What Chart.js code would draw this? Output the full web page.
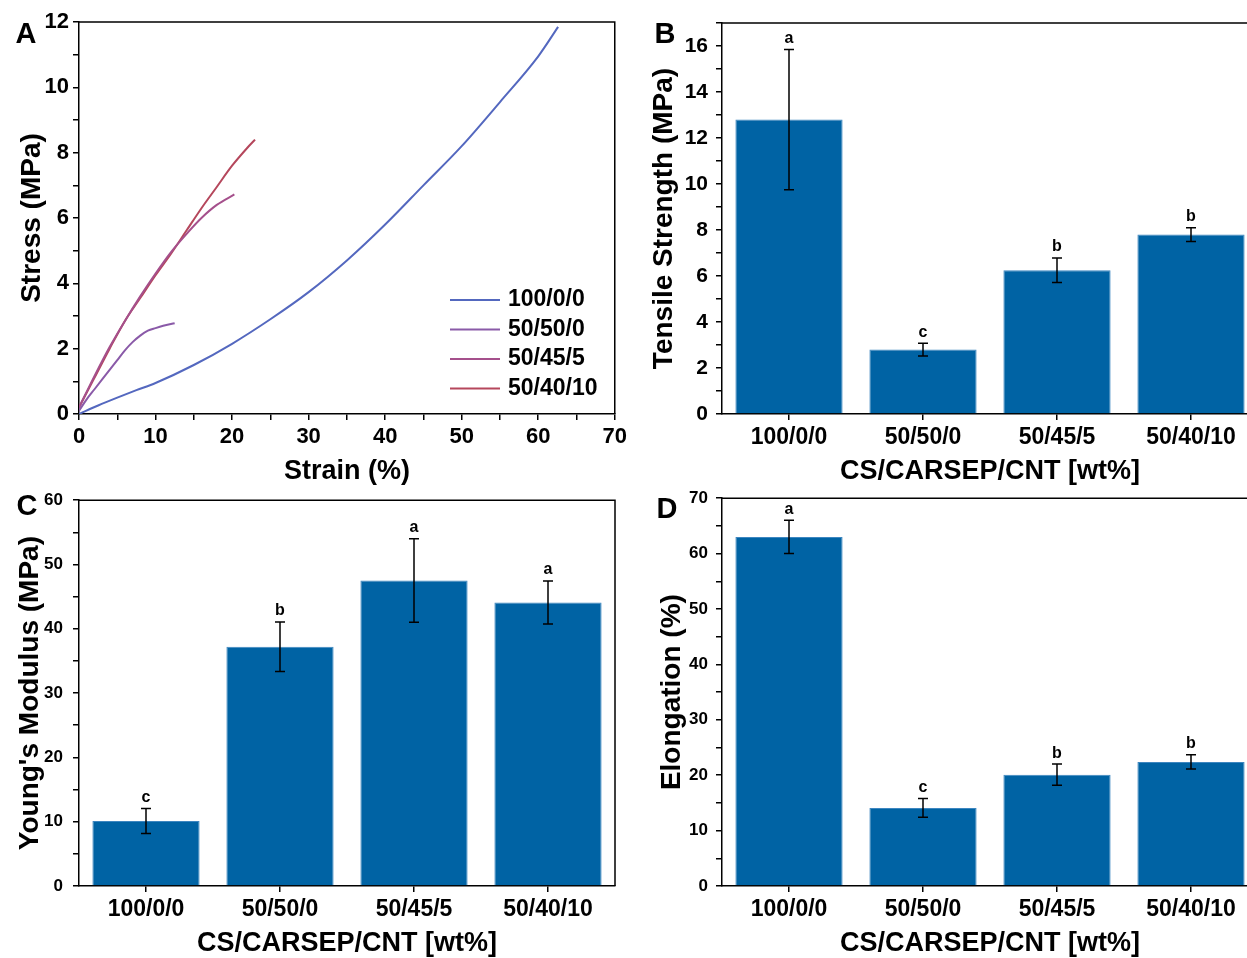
<!DOCTYPE html>
<html>
<head>
<meta charset="utf-8">
<script src="https://cdn.jsdelivr.net/npm/chart.js@4.4.1/dist/chart.umd.min.js"></script>
<style>
    body { margin: 0; background: #fff; overflow: hidden; width: 1247px; height: 958px; position: relative; }
    canvas { position: absolute; }
</style>
</head>
<body>
<canvas id="panelA" width="631" height="490" style="left:0;top:0"></canvas>
<canvas id="panelB" width="625" height="490" style="left:640px;top:0"></canvas>
<canvas id="panelC" width="625" height="480" style="left:0;top:480px"></canvas>
<canvas id="panelD" width="625" height="480" style="left:640px;top:480px"></canvas>
<script>
// Stress-strain curves (panel A)

const seriesNames = ['100/0/0', '50/50/0', '50/45/5', '50/40/10'];
const seriesColors = ['#5468bf', '#8a5aa8', '#a5508c', '#b5475c'];

const strain100 = [0, 2.5, 5, 7.5, 10, 15, 20, 25, 30, 35, 40, 45, 50, 55, 60, 62.6];
const stress100 = [0, 0.26, 0.5, 0.73, 0.95, 1.5, 2.15, 2.9, 3.73, 4.7, 5.8, 7.0, 8.2, 9.55, 10.95, 11.85];

const strain5050 = [0, 1, 2, 3, 4, 5, 6, 7, 8, 9, 10, 11, 12.5];
const stress5050 = [0.1, 0.45, 0.75, 1.05, 1.35, 1.65, 1.95, 2.2, 2.4, 2.55, 2.63, 2.7, 2.78];

const strain50455 = [0, 2, 4, 6, 8, 10, 12, 14, 16, 18, 20.3];
const stress50455 = [0.2, 1.15, 2.05, 2.85, 3.6, 4.3, 4.95, 5.5, 6.0, 6.4, 6.72];

const strain504010 = [0, 2, 4, 6, 8, 10, 12, 14, 16, 18, 20, 22, 23];
const stress504010 = [0.2, 1.1, 2.0, 2.85, 3.55, 4.25, 4.9, 5.6, 6.3, 6.95, 7.6, 8.15, 8.4];

// Bar panels (B, C, D)

const groups = ['100/0/0', '50/50/0', '50/45/5', '50/40/10'];

const strengthMean = [12.8, 2.8, 6.25, 7.8];
const strengthErr = [3.05, 0.28, 0.53, 0.3];
const strengthLetters = ['a', 'c', 'b', 'b'];

const modulusMean = [10.1, 37.2, 47.5, 44.1];
const modulusErr = [1.95, 3.85, 6.5, 3.35];
const modulusLetters = ['c', 'b', 'a', 'a'];

const elongMean = [63, 14.1, 20.1, 22.4];
const elongErr = [3, 1.7, 1.9, 1.3];
const elongLetters = ['a', 'c', 'b', 'b'];

Chart.defaults.font.family = '"Liberation Sans", Arial, sans-serif';
Chart.defaults.color = '#000';
Chart.defaults.animation = false;

const frame = {
    id: 'frame',
    afterDraw(chart) {
        const {ctx, chartArea: a} = chart;
        ctx.save();
        ctx.strokeStyle = '#000';
        ctx.lineWidth = 1.5;
        ctx.beginPath();
        ctx.moveTo(a.left, a.top);
        ctx.lineTo(a.right, a.top);
        ctx.lineTo(a.right, a.bottom);
        ctx.stroke();
        ctx.restore();
    }
};

const panelLetter = {
    id: 'panelLetter',
    afterDraw(chart, args, opts) {
        const ctx = chart.ctx;
        ctx.save();
        ctx.font = 'bold 29px "Liberation Sans", Arial, sans-serif';
        ctx.fillStyle = '#000';
        ctx.textAlign = 'center';
        ctx.textBaseline = 'middle';
        ctx.fillText(opts.text, opts.x, opts.y);
        ctx.restore();
    }
};

const errorBars = {
    id: 'errorBars',
    afterDatasetsDraw(chart, args, opts) {
        const {ctx} = chart;
        const y = chart.scales.y;
        const meta = chart.getDatasetMeta(0);
        const values = chart.data.datasets[0].data;
        ctx.save();
        ctx.strokeStyle = '#000';
        ctx.fillStyle = '#000';
        ctx.lineWidth = 1.5;
        ctx.font = 'bold 16px "Liberation Sans", Arial, sans-serif';
        ctx.textAlign = 'center';
        ctx.textBaseline = 'bottom';
        meta.data.forEach((bar, i) => {
            const top = y.getPixelForValue(values[i] + opts.err[i]);
            const bot = y.getPixelForValue(values[i] - opts.err[i]);
            ctx.beginPath();
            ctx.moveTo(bar.x, top);
            ctx.lineTo(bar.x, bot);
            ctx.moveTo(bar.x - 5, top);
            ctx.lineTo(bar.x + 5, top);
            ctx.moveTo(bar.x - 5, bot);
            ctx.lineTo(bar.x + 5, bot);
            ctx.stroke();
            ctx.fillText(opts.letters[i], bar.x, top - 3);
        });
        ctx.restore();
    }
};

const innerLegend = {
    id: 'innerLegend',
    afterDraw(chart, args, opts) {
        const ctx = chart.ctx;
        ctx.save();
        ctx.font = 'bold 23px "Liberation Sans", Arial, sans-serif';
        ctx.textBaseline = 'middle';
        ctx.lineWidth = 2;
        chart.data.datasets.forEach((ds, i) => {
            const yy = opts.y + i * opts.gap;
            ctx.strokeStyle = ds.borderColor;
            ctx.beginPath();
            ctx.moveTo(opts.x, yy);
            ctx.lineTo(opts.x + 50, yy);
            ctx.stroke();
            ctx.fillStyle = '#000';
            ctx.fillText(ds.label, opts.x + 58, yy);
        });
        ctx.restore();
    }
};

function toPoints(xs, ys) {
    return xs.map((x, i) => ({x: x, y: ys[i]}));
}

const axisLine = {color: '#000', width: 1.5};
const tickGrid = {drawOnChartArea: false, tickLength: 6, color: '#000', lineWidth: 1.5};

// Panel A

const curves = [
    toPoints(strain100, stress100),
    toPoints(strain5050, stress5050),
    toPoints(strain50455, stress50455),
    toPoints(strain504010, stress504010),
];

new Chart(document.getElementById('panelA'), {
    type: 'line',
    data: {
        datasets: curves.map((pts, i) => ({
            label: seriesNames[i],
            data: pts,
            borderColor: seriesColors[i],
            borderWidth: 2,
            pointRadius: 0,
            cubicInterpolationMode: 'monotone',
            fill: false
        }))
    },
    options: {
        responsive: false,
        layout: {padding: {left: 0, top: 22, right: 12, bottom: 0}},
        plugins: {
            legend: {display: false},
            tooltip: {enabled: false},
            panelLetter: {text: 'A', x: 26, y: 35},
            innerLegend: {x: 450, y: 300, gap: 29.5}
        },
        scales: {
            x: {
                type: 'linear',
                min: 0,
                max: 70,
                ticks: {stepSize: 5, autoSkip: false, maxRotation: 0,
                    callback: v => v % 10 === 0 ? v : '',
                    font: {size: 22, weight: 'bold'}, padding: 4},
                grid: tickGrid,
                border: axisLine,
                title: {display: true, text: 'Strain (%)', font: {size: 27, weight: 'bold'}, padding: {bottom: 2}},
                afterFit: s => { s.height = 76; }
            },
            y: {
                min: 0,
                max: 12,
                ticks: {stepSize: 1, autoSkip: false,
                    callback: v => v % 2 === 0 ? v : '',
                    font: {size: 22, weight: 'bold'}, padding: 4},
                grid: tickGrid,
                border: axisLine,
                title: {display: true, text: 'Stress (MPa)', font: {size: 28, weight: 'bold'}, padding: {top: 15}},
                afterFit: s => { s.width = 79; }
            }
        }
    },
    plugins: [frame, panelLetter, innerLegend]
});

// Panels B, C, D

function barPanel(id, means, errs, letters, cfg) {
    return new Chart(document.getElementById(id), {
        type: 'bar',
        data: {
            labels: groups,
            datasets: [{
                data: means,
                backgroundColor: '#0063a4',
                borderColor: '#3d86c0',
                borderWidth: 1,
                barPercentage: 0.8,
                categoryPercentage: 1.0
            }]
        },
        options: {
            responsive: false,
            layout: {padding: {left: 0, top: cfg.top, right: cfg.right, bottom: 0}},
            plugins: {
                legend: {display: false},
                tooltip: {enabled: false},
                panelLetter: cfg.letter,
                errorBars: {err: errs, letters: letters}
            },
            scales: {
                x: {
                    offset: true,
                    ticks: {font: {size: 23, weight: 'bold'}, padding: 4, maxRotation: 0},
                    grid: Object.assign({offset: false}, tickGrid),
                    border: axisLine,
                    title: {display: true, text: 'CS/CARSEP/CNT [wt%]', font: {size: 27, weight: 'bold'}, padding: {bottom: cfg.xTitlePad}},
                    afterFit: s => { s.height = cfg.xHeight; }
                },
                y: {
                    min: 0,
                    max: cfg.max,
                    ticks: {stepSize: cfg.step, autoSkip: false,
                        callback: v => v % cfg.labelEvery === 0 ? v : '',
                        font: {size: cfg.yFont, weight: 'bold'}, padding: cfg.yPad},
                    grid: tickGrid,
                    border: axisLine,
                    title: {display: true, text: cfg.yTitle, font: {size: 28, weight: 'bold'}, padding: {top: cfg.yTitlePad}},
                    afterFit: s => { s.width = cfg.yWidth; }
                }
            }
        },
        plugins: [frame, panelLetter, errorBars]
    });
}

barPanel('panelB', strengthMean, strengthErr, strengthLetters, {
    top: 23, right: 7, max: 17, step: 1, labelEvery: 2, yFont: 21, yPad: 8,
    yTitle: 'Tensile Strength (MPa)', yTitlePad: 7, yWidth: 82,
    xHeight: 76, xTitlePad: 2,
    letter: {text: 'B', x: 25, y: 35}
});

barPanel('panelC', modulusMean, modulusErr, modulusLetters, {
    top: 13, right: 10, max: 60, step: 5, labelEvery: 10, yFont: 17, yPad: 10,
    yTitle: "Young's Modulus (MPa)", yTitlePad: 13, yWidth: 79,
    xHeight: 74, xTitlePad: 0,
    letter: {text: 'C', x: 27, y: 27}
});

barPanel('panelD', elongMean, elongErr, elongLetters, {
    top: 13, right: 7, max: 70, step: 5, labelEvery: 10, yFont: 17, yPad: 8,
    yTitle: 'Elongation (%)', yTitlePad: 15, yWidth: 82,
    xHeight: 74, xTitlePad: 0,
    letter: {text: 'D', x: 27, y: 30}
});
</script>
</body>
</html>
